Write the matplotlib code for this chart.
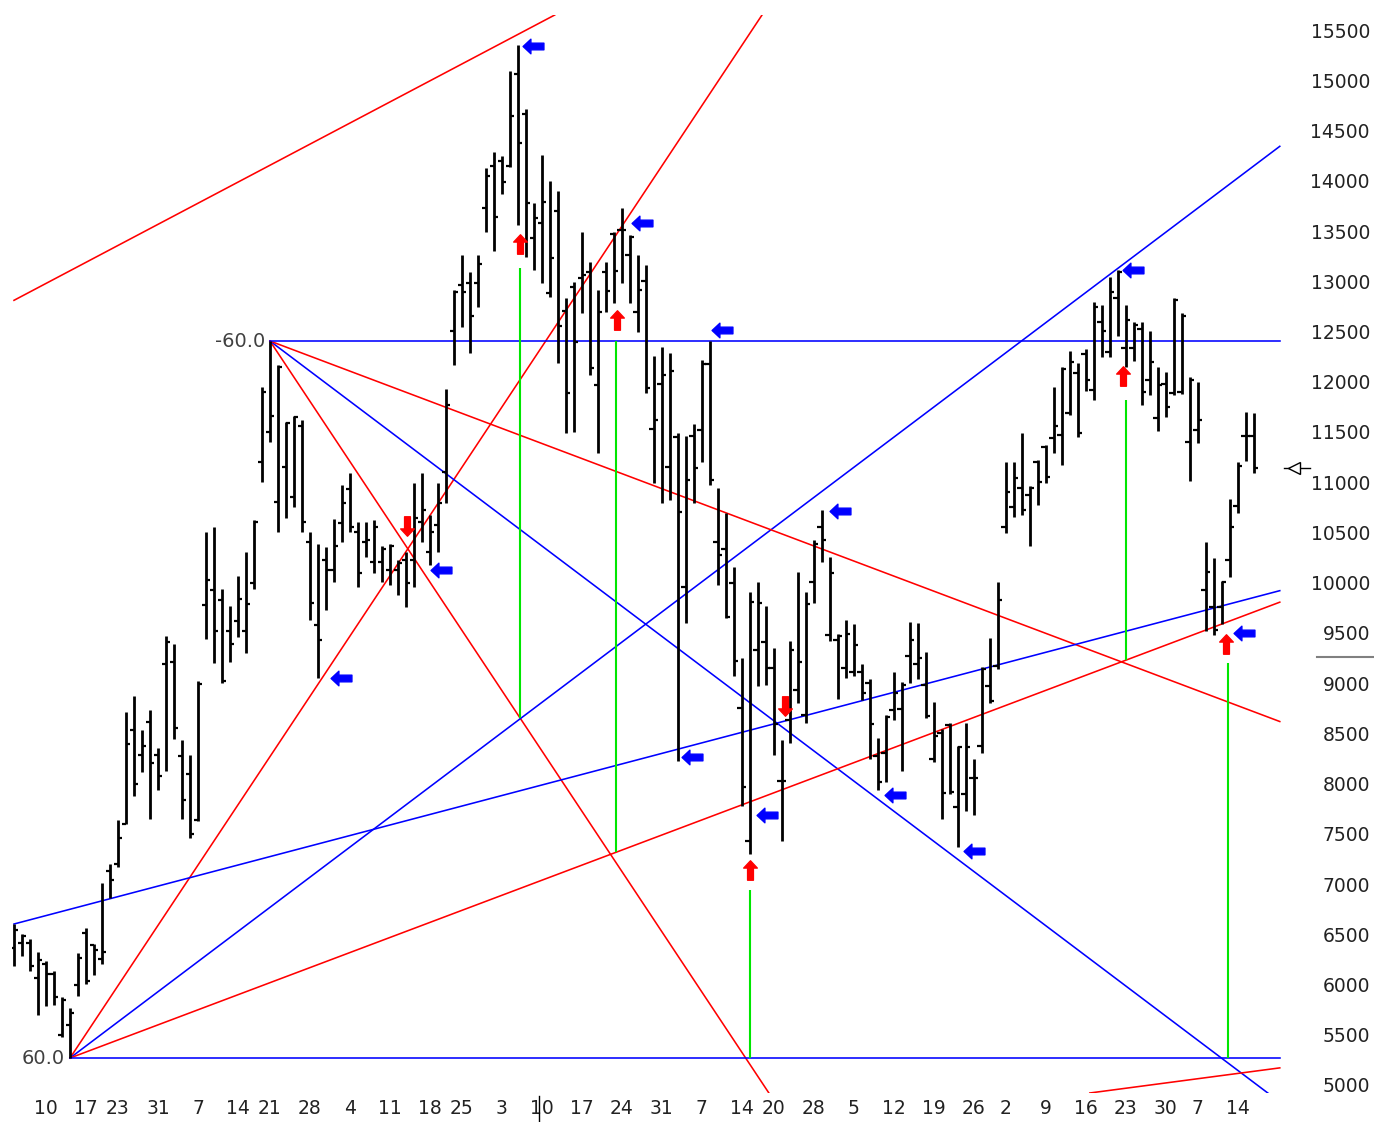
import matplotlib
matplotlib.use('Agg')
import matplotlib.pyplot as plt
import matplotlib.transforms as mtransforms
from matplotlib.lines import Line2D
from matplotlib.path import Path
import numpy as np

# daily OHLC bars (x = trading day index)
high = [6600, 6500, 6450, 6320, 6230, 6130, 5880, 5770, 6310, 6560,
        6400, 7010, 7200, 7640, 8710, 8870, 8530, 8730, 8350, 9470,
        9390, 8430, 8280, 9020, 10500, 10550, 9940, 9770, 10070, 10300,
        10620, 11950, 12405, 12170, 11600, 11660, 11620, 10500, 10380, 10350,
        10630, 10970, 11090, 10600, 10600, 10620, 10360, 10380, 10230, 10300,
        10990, 11090, 10670, 10990, 11930, 12910, 13260, 13090, 13260, 14130,
        14290, 14250, 15090, 15350, 14710, 13780, 14260, 14000, 13900, 12830,
        12990, 13490, 13190, 12910, 13190, 13490, 13730, 13460, 13260, 13160,
        12260, 12350, 12290, 11490, 11460, 11580, 12220, 12410, 10940, 10690,
        10160, 9250, 9910, 10010, 9770, 9350, 8430, 9420, 10110, 9910,
        10420, 10720, 10260, 9490, 9630, 9590, 9190, 9040, 8450, 8680,
        9110, 9010, 9610, 9600, 9310, 8810, 8540, 8600, 8370, 8600,
        8240, 9160, 9450, 10010, 11200, 11200, 11490, 10960, 11220, 11370,
        11950, 12150, 12310, 12190, 12330, 12790, 12760, 13040, 13110, 12760,
        12590, 12590, 12500, 12150, 12100, 12830, 12680, 12050, 12000, 10400,
        10250, 10020, 10830, 11200, 11700, 11690]
low = [6180, 6280, 6130, 5700, 5790, 5800, 5480, 5270, 5890, 6000,
       6090, 6200, 6860, 7170, 7600, 7880, 8120, 7650, 7940, 8130,
       8440, 7650, 7460, 7630, 9440, 9200, 9000, 9210, 9460, 9300,
       9940, 11000, 11400, 10500, 10640, 10750, 10500, 9630, 9050, 9730,
       10010, 10400, 10500, 9960, 10260, 10100, 10010, 9980, 9880, 9760,
       9960, 10400, 10180, 10300, 10790, 12170, 12540, 12290, 12740, 13490,
       13300, 13870, 14140, 13560, 13240, 13110, 12980, 12840, 12190, 11490,
       11500, 12680, 12070, 11290, 12690, 12780, 12980, 12780, 12490, 11890,
       10990, 10790, 10820, 8220, 9600, 10790, 11200, 10970, 9980, 9650,
       9070, 7780, 7300, 8970, 8980, 8280, 7430, 8400, 8800, 8600,
       9800, 10210, 9420, 8840, 9050, 9070, 8830, 8240, 7940, 8020,
       8630, 8130, 9000, 9040, 8650, 8210, 7650, 7900, 7370, 7730,
       7690, 8300, 8800, 9140, 10490, 10650, 10670, 10360, 10770, 10990,
       11290, 11170, 11670, 11450, 11910, 11820, 12250, 12250, 12450, 12150,
       12210, 11770, 11870, 11510, 11650, 11870, 11880, 11010, 11390, 9520,
       9480, 9590, 10060, 10690, 11210, 11090]
open_ = [6360, 6410, 6410, 6060, 6200, 6100, 5500, 5600, 5990, 6510,
         6390, 6250, 7130, 7200, 7600, 8530, 8280, 8610, 8280, 9190,
         9210, 8270, 8100, 7640, 9780, 9930, 9830, 9520, 9620, 9520,
         10000, 11200, 11500, 10800, 11150, 10850, 11560, 10400, 9580, 10230,
         10130, 10590, 10930, 10500, 10400, 10210, 10210, 10130, 10130, 10230,
         10230, 10600, 10300, 10570, 11100, 12500, 12960, 12980, 12980, 13730,
         14150, 14200, 14150, 15060, 14660, 13430, 13580, 12880, 13700, 12700,
         12940, 13030, 13090, 11970, 13090, 13470, 13510, 13260, 12690, 13000,
         11530, 11980, 11150, 11450, 9960, 11460, 11520, 12180, 10400, 10330,
         10000, 8750, 7430, 9330, 9410, 9150, 8030, 8630, 8930, 8680,
         10010, 10550, 9480, 9430, 9150, 9110, 9110, 9000, 8270, 8300,
         8730, 8740, 9270, 9190, 8980, 8240, 8500, 8580, 7770, 7900,
         8060, 8370, 8970, 9170, 10550, 10750, 10940, 10870, 11200, 11350,
         11440, 11470, 11690, 12090, 12280, 11920, 12590, 12300, 12830, 12340,
         12340, 12520, 12020, 11640, 11980, 11890, 11900, 11400, 11520, 9930,
         9760, 9760, 10230, 10760, 11460, 11460]
close = [6540, 6480, 6180, 6240, 6100, 5880, 5850, 5720, 6260, 6030,
         6340, 6320, 7040, 7460, 8390, 8000, 8370, 8200, 8080, 9410,
         8550, 7840, 7500, 8990, 10030, 9520, 9020, 9390, 9840, 9790,
         10600, 11900, 11660, 12150, 11590, 11650, 10600, 9800, 9430, 10130,
         10360, 10790, 10550, 10100, 10420, 10550, 10330, 10360, 10200, 10000,
         10640, 10720, 10500, 10790, 11770, 12890, 12890, 12650, 13170, 14050,
         13640, 13990, 14640, 14380, 13780, 13630, 13790, 13230, 12550, 11890,
         12400, 13060, 12140, 12690, 12900, 13100, 13510, 13440, 12910, 11940,
         11620, 12070, 12110, 10700, 11020, 11140, 12180, 11020, 10280, 9660,
         9220, 7970, 9810, 9800, 9150, 8590, 8030, 9330, 9210, 9790,
         10380, 10420, 10100, 9470, 9490, 9380, 8900, 8590, 8020, 8660,
         8900, 8980, 9430, 9250, 8670, 8470, 7910, 7920, 8360, 8360,
         8060, 9140, 8820, 9830, 10900, 11040, 10720, 10940, 11000, 11050,
         11560, 12130, 12200, 11490, 12020, 12740, 12500, 12890, 13090, 12610,
         12560, 11900, 12200, 11970, 11750, 12810, 12650, 12020, 11620, 10110,
         9530, 10010, 10550, 11160, 11460, 11140]

tick_pos = [4, 9, 13, 18, 23, 28, 32, 37, 42, 47, 52, 56, 61, 66, 71, 76,
            81, 86, 91, 95, 100, 105, 110, 115, 120, 124, 129, 134, 139, 144, 148, 153]
tick_lab = ['10', '17', '23', '31', '7', '14', '21', '28', '4', '11', '18', '25',
            '3', '10', '17', '24', '31', '7', '14', '20', '28', '5', '12', '19',
            '26', '2', '9', '16', '23', '30', '7', '14']

# gann fan pivots, 60 points per bar for the 1x1 line
low_piv = (7, 5268)
high_piv = (32, 12405)
unit = 60.0
fan = [(2, 'red'), (1, 'blue'), (0.5, 'red'), (0, 'blue')]

# other trend lines (x0, y0, x1, y1, colour)
extra_lines = [(0, 12810, 67.6, 15650, 'red'),
               (0, 6602, 158.25, 9920, 'blue'),
               (134.5, 4920, 158.25, 5170, 'red')]

# green time lines
green_x = [63.25, 75.25, 92, 139, 151.75]
green_lo = [8655, 7316, 5268, 9230, 5268]
green_hi = [13131, 12405, 6940, 11817, 9200]

# signal arrows
blue_x = [64.9, 78.5, 88.5, 53.4, 40.9, 84.75, 94.1, 103.25, 110.1, 120, 139.9, 153.75]
blue_y = [15341, 13579, 12514, 10125, 9050, 8264, 7687, 10713, 7886, 7329, 13111, 9497]
up_x = [63.25, 75.4, 92, 138.6, 151.5]
up_y = [13370, 12614, 7140, 12056, 9388]
down_x = [49.1, 96.4]
down_y = [10563, 8772]

fig = plt.figure(figsize=(13.74, 11.22), dpi=100)
ax = fig.add_axes([0.00873, 0.02585, 0.92358, 0.96078])
xe = 158.25

x = np.arange(len(high))
ax.vlines(x, low, high, color='black', lw=2.0, zorder=3)
ax.hlines(open_, x - 0.55, x, color='black', lw=1.6, zorder=3)
ax.hlines(close, x, x + 0.55, color='black', lw=1.6, zorder=3)

for m, c in fan:
    ax.plot([low_piv[0], xe], [low_piv[1], low_piv[1] + m * unit * (xe - low_piv[0])],
            color=c, lw=1.15, zorder=2)
    ax.plot([high_piv[0], xe], [high_piv[1], high_piv[1] - m * unit * (xe - high_piv[0])],
            color=c, lw=1.15, zorder=2)
for x0, y0, x1, y1, c in extra_lines:
    ax.plot([x0, x1], [y0, y1], color=c, lw=1.15, zorder=2)

ax.vlines(green_x, green_lo, green_hi, color='#00e600', lw=1.5, zorder=2)

up = Path([(0, 1), (-0.7, 0.25), (-0.3, 0.25), (-0.3, -1), (0.3, -1), (0.3, 0.25), (0.7, 0.25), (0, 1)], closed=True)
down = Path([(vx, -vy) for vx, vy in up.vertices], closed=True)
left = Path([(-1, 0), (-0.25, 0.7), (-0.25, 0.32), (1, 0.32), (1, -0.32), (-0.25, -0.32), (-0.25, -0.7), (-1, 0)], closed=True)
ax.plot(blue_x, blue_y, ls='none', marker=left, ms=15, color='#0000ff', zorder=4)
ax.plot(up_x, up_y, ls='none', marker=up, ms=14, color='#ff0000', zorder=4)
ax.plot(down_x, down_y, ls='none', marker=down, ms=14, color='#ff0000', zorder=4)

ax.text(6.4, low_piv[1], '60.0', ha='right', va='center', fontsize=14, color='#404040')
ax.text(31.4, high_piv[1], '-60.0', ha='right', va='center', fontsize=14, color='#404040')

ax.set_xlim(-0.25, 158.4)
ax.set_ylim(4920, 15650)

ax.yaxis.tick_right()
ax.set_yticks(np.arange(5000, 15501, 500))
ax.set_yticklabels([str(v) for v in range(5000, 15501, 500)])
ax.tick_params(axis='y', length=0, pad=64, labelsize=13.5, labelcolor='#222222')
for t in ax.get_yticklabels():
    t.set_ha('right')
ax.set_xticks(tick_pos)
ax.set_xticklabels(tick_lab)
ax.tick_params(axis='x', length=0, pad=4, labelsize=13.5, labelcolor='#222222')
for s in ax.spines.values():
    s.set_visible(False)

# last price marker and price-scale line
ax.plot([158.8, 162], [close[-1]] * 2, color='black', lw=1, clip_on=False)
ax.plot([160.0], [close[-1]], marker='<', ms=9, mfc='white', mec='black', mew=1, clip_on=False)
blend = mtransforms.blended_transform_factory(fig.transFigure, ax.transData)
fig.add_artist(Line2D([0.9585, 1.0], [9260, 9260], transform=blend, color='#808080', lw=1.5))
blend2 = mtransforms.blended_transform_factory(ax.transData, ax.transAxes)
ax.plot([65.6, 65.6], [-0.003, -0.027], transform=blend2, color='black', lw=1, clip_on=False)

fig.savefig('out.png', dpi=100, facecolor='white')
